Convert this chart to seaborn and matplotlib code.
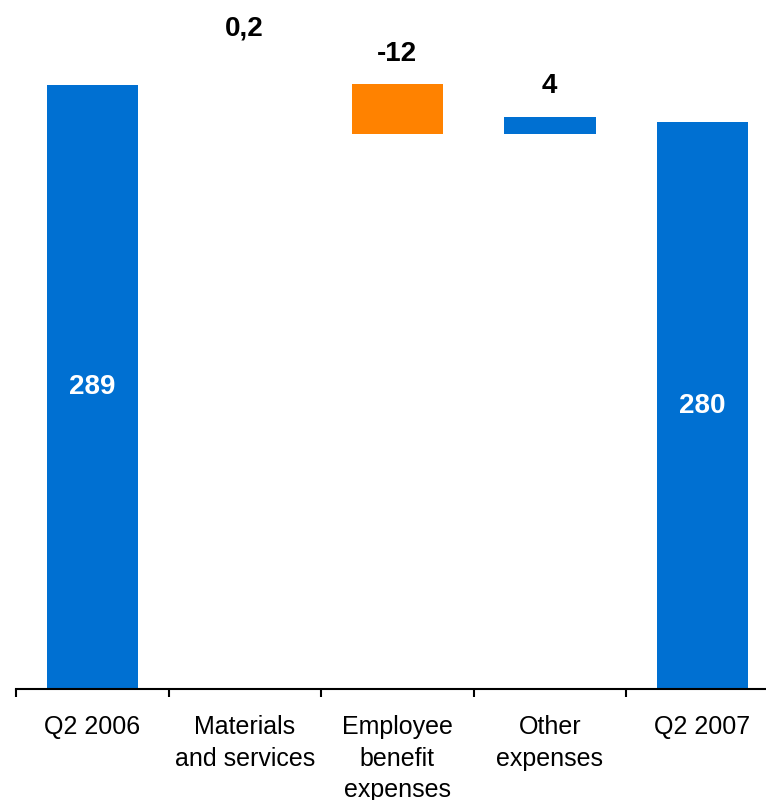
import matplotlib
matplotlib.use("Agg")
import matplotlib.pyplot as plt
import numpy as np
import pandas as pd
import seaborn as sns

# Quarterly cost bridge, Q2 2006 -> Q2 2007
categories = ["Q2 2006", "Materials\nand services", "Employee\nbenefit\nexpenses",
              "Other\nexpenses", "Q2 2007"]
values = [289, 0.2, -12, 4, 280]
value_labels = ["289", "0,2", "-12", "4", "280"]
is_total = [True, False, False, False, True]

BLUE = "#0070D2"
ORANGE = "#FF8200"

# Floating bar geometry for the bridge
bottoms, heights = [], []
running = 0.0
for v, tot in zip(values, is_total):
    if tot:
        running = v
        bottoms.append(0.0)
        heights.append(v)
    else:
        bottoms.append(running if v >= 0 else running + v)
        heights.append(abs(v))
        running += v

colors = [BLUE if (tot or v >= 0) else ORANGE for v, tot in zip(values, is_total)]
df = pd.DataFrame({"category": categories, "height": heights})

sns.set_style("white")
plt.rcParams["font.family"] = ["Liberation Sans", "DejaVu Sans"]

fig = plt.figure(figsize=(7.66, 8), dpi=100)
ax = fig.add_axes([16 / 766, 111 / 800, 762.5 / 766, 689 / 800])

sns.barplot(data=df, x="category", y="height", bottom=bottoms, width=0.6,
            color=BLUE, linewidth=0, errorbar=None, ax=ax)

ymin, ymax = 142, 309.7
ax.set_ylim(ymin, ymax)
ax.set_xlim(-0.5, len(categories) - 0.5)

# Colour the bars; changes smaller than one pixel are not drawn
px_per_unit = ax.bbox.height / (ymax - ymin)
for patch, c, h in zip(ax.patches, colors, heights):
    patch.set_facecolor(c)
    patch.set_edgecolor("none")
    if h * px_per_unit < 1:
        patch.set_visible(False)

# Value labels: totals inside the bar, changes above it
label_offsets = [0, 35, 17, 17, 0]
for i, (lab, tot) in enumerate(zip(value_labels, is_total)):
    top = bottoms[i] + heights[i]
    if tot:
        ax.text(i, (max(bottoms[i], ymin) + top) / 2, lab, ha="center", va="center",
                color="white", fontsize=20, fontweight="bold")
    else:
        ax.annotate(lab, (i, top), xytext=(0, label_offsets[i]), textcoords="offset points",
                    ha="center", va="baseline", color="black",
                    fontsize=20, fontweight="bold", annotation_clip=False)

# Axes styling: only the baseline with separators between categories
for side in ("left", "top", "right"):
    ax.spines[side].set_visible(False)
ax.spines["bottom"].set_color("black")
ax.spines["bottom"].set_linewidth(1.5)
ax.set_yticks([])
ax.set_xlabel("")
ax.set_ylabel("")
ax.set_xticks(range(len(categories)))
ax.set_xticklabels(categories, fontsize=18, linespacing=1.38)
ax.set_xticks(np.arange(-0.5, len(categories)), minor=True)
ax.tick_params(axis="x", which="major", length=0, pad=19, colors="black")
ax.tick_params(axis="x", which="minor", length=6, width=1.5, direction="out",
               color="black", bottom=True)
ax.grid(False)

fig.savefig("out.png", dpi=100)
